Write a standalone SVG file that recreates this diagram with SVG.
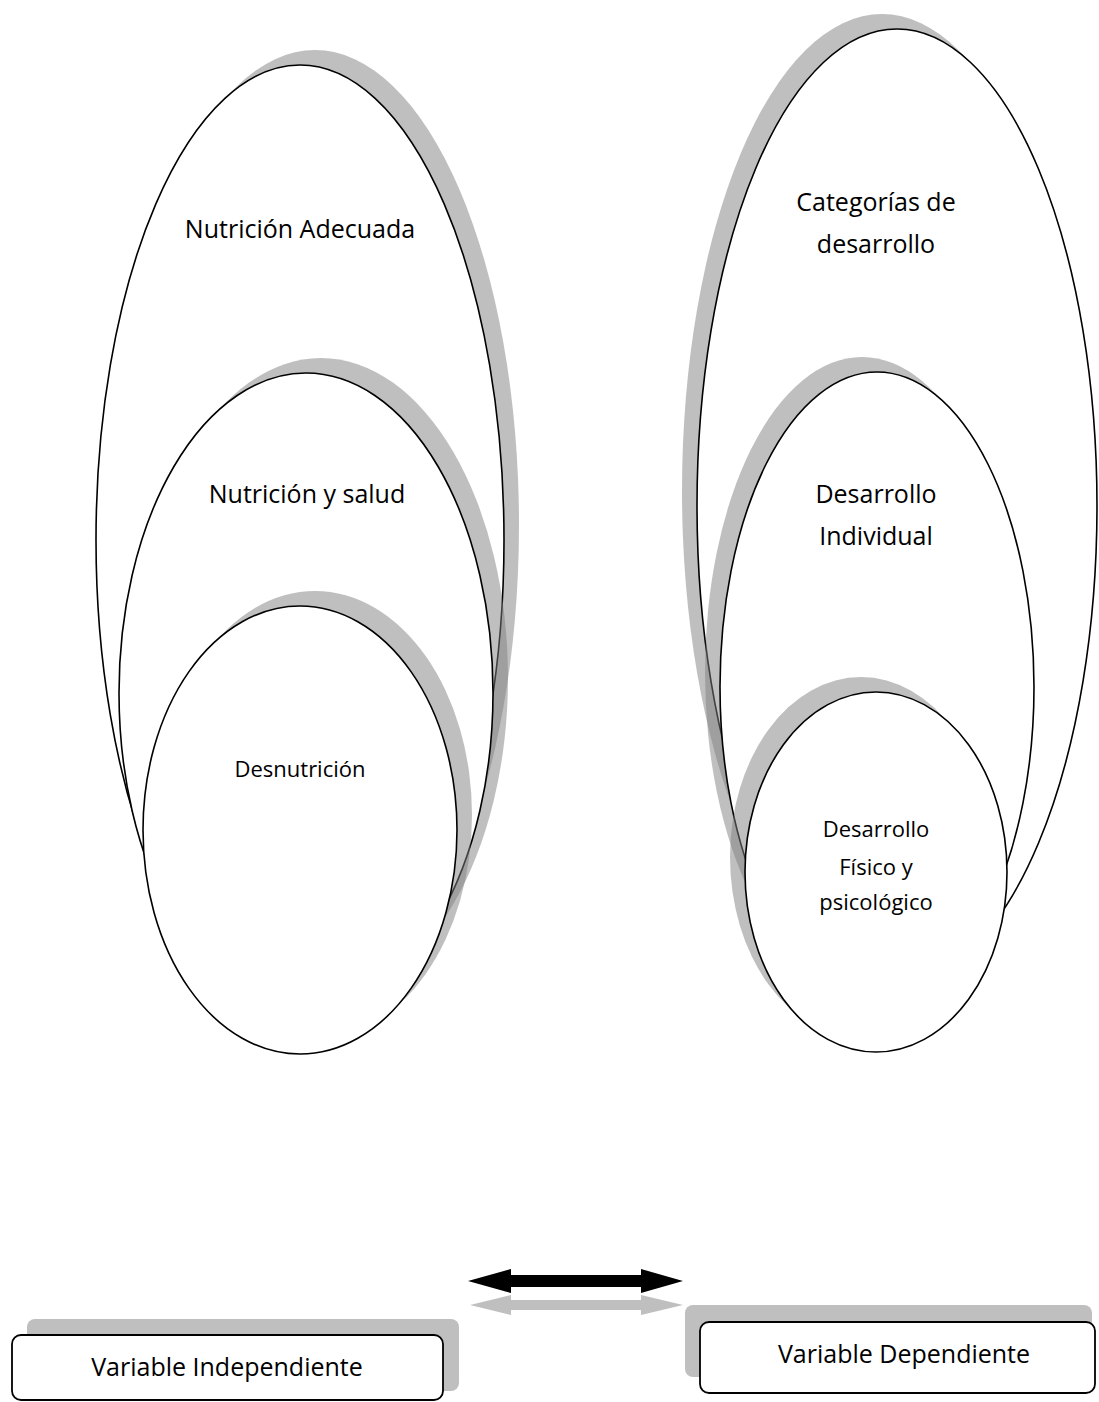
<svg xmlns="http://www.w3.org/2000/svg" width="1099" height="1402" viewBox="0 0 1099 1402">
<style>
.sh{fill:#808080;fill-opacity:0.5;stroke:none}
.el{fill:#ffffff;stroke:#000000;stroke-width:1.6}
.bx{fill:#ffffff;stroke:#000000;stroke-width:1.8}
.bs{fill:#bfbfbf;stroke:none}
.t{font-family:"Open Sans","Noto Sans",sans-serif;fill:#000000;text-anchor:middle}
.lg{font-size:25px}
.sm{font-size:22px}
</style>
<rect width="1099" height="1402" fill="#ffffff"/>
<g id="nutricion-adecuada">
<ellipse class="sh" cx="315" cy="525" rx="204" ry="475"/>
<ellipse class="el" cx="300" cy="540" rx="204" ry="475"/>
<text class="t lg" x="300" y="238">Nutrición Adecuada</text>
</g>
<g id="nutricion-salud">
<ellipse class="sh" cx="321" cy="678" rx="187" ry="320"/>
<ellipse class="el" cx="306" cy="693" rx="187" ry="320"/>
<text class="t lg" x="307" y="503">Nutrición y salud</text>
</g>
<g id="desnutricion">
<ellipse class="sh" cx="315" cy="815" rx="157" ry="224"/>
<ellipse class="el" cx="300" cy="830" rx="157" ry="224"/>
<text class="t sm" x="300" y="777">Desnutrición</text>
</g>
<g id="categorias-desarrollo">
<ellipse class="sh" cx="882" cy="491" rx="200" ry="477"/>
<ellipse class="el" cx="897" cy="506" rx="200" ry="477"/>
<text class="t lg" x="876" y="211">Categorías de</text>
<text class="t lg" x="876" y="253">desarrollo</text>
</g>
<g id="desarrollo-individual">
<ellipse class="sh" cx="862" cy="672" rx="157" ry="315"/>
<ellipse class="el" cx="877" cy="687" rx="157" ry="315"/>
<text class="t lg" x="876" y="503">Desarrollo</text>
<text class="t lg" x="876" y="545">Individual</text>
</g>
<g id="desarrollo-fisico">
<ellipse class="sh" cx="861" cy="857" rx="131" ry="180"/>
<ellipse class="el" cx="876" cy="872" rx="131" ry="180"/>
<text class="t sm" x="876" y="837">Desarrollo</text>
<text class="t sm" x="876" y="875">Físico y</text>
<text class="t sm" x="876" y="910">psicológico</text>
</g>
<g id="connectors">
<polygon fill="#bfbfbf" points="470,1305 511,1295 511,1300 641,1300 641,1295 683,1305 641,1315 641,1310 511,1310 511,1315"/>
<polygon fill="#000000" points="468,1281 511,1269 511,1275 641,1275 641,1269 683,1281 641,1293 641,1287 511,1287 511,1293"/>
</g>
<g id="variable-independiente">
<rect class="bs" x="27" y="1319" width="432" height="72" rx="8"/>
<rect class="bx" x="12" y="1335" width="431" height="65" rx="9"/>
<text class="t lg" x="227" y="1376">Variable Independiente</text>
</g>
<g id="variable-dependiente">
<rect class="bs" x="685" y="1305" width="407" height="72" rx="8"/>
<rect class="bx" x="700" y="1322" width="395" height="71" rx="9"/>
<text class="t lg" x="904" y="1363">Variable Dependiente</text>
</g>
</svg>
